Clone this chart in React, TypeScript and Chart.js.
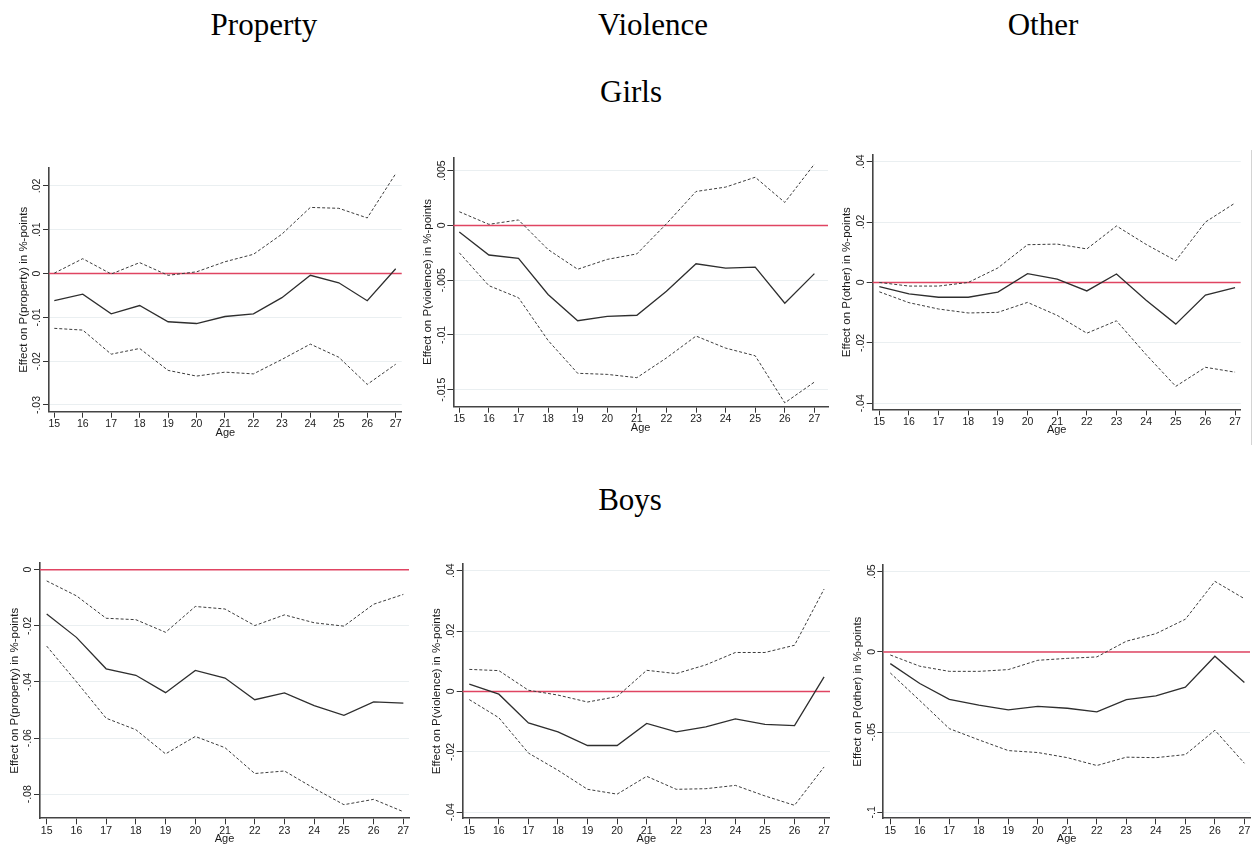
import React, { useEffect, useRef } from "react";
import { Chart, registerables } from "chart.js";

Chart.register(...registerables);

const ages = [15, 16, 17, 18, 19, 20, 21, 22, 23, 24, 25, 26, 27];

// girls
const girlsPropertyEst = [-0.0062, -0.0047, -0.0092, -0.0073, -0.011, -0.0114, -0.0098, -0.0092, -0.0055, -0.0004, -0.0021, -0.0062, 0.0011];
const girlsPropertyHi = [0.0001, 0.0034, -0.0001, 0.0025, -0.0004, 0.0004, 0.0027, 0.0044, 0.009, 0.0151, 0.0149, 0.0127, 0.0228];
const girlsPropertyLo = [-0.0125, -0.0129, -0.0184, -0.0171, -0.0221, -0.0234, -0.0225, -0.0229, -0.0196, -0.0161, -0.0191, -0.0253, -0.0207];
const girlsPropertyTicks = [0.02, 0.01, 0, -0.01, -0.02, -0.03];

const girlsViolenceEst = [-0.0006, -0.0027, -0.003, -0.0063, -0.0087, -0.0083, -0.0082, -0.006, -0.0035, -0.0039, -0.0038, -0.0071, -0.0044];
const girlsViolenceHi = [0.00125, 0.0001, 0.0005, -0.0022, -0.004, -0.0031, -0.0026, 0.00015, 0.0031, 0.0035, 0.0044, 0.0021, 0.0056];
const girlsViolenceLo = [-0.0025, -0.0055, -0.0066, -0.0105, -0.0135, -0.0136, -0.0139, -0.0121, -0.0101, -0.0112, -0.0119, -0.0162, -0.0143];
const girlsViolenceTicks = [0.005, 0, -0.005, -0.01, -0.015];

const girlsOtherEst = [-0.0014, -0.0038, -0.0049, -0.0049, -0.0032, 0.0029, 0.0011, -0.0028, 0.0028, -0.0059, -0.0138, -0.0042, -0.0017];
const girlsOtherHi = [0.0, -0.0012, -0.0012, 0.0, 0.0048, 0.0125, 0.0127, 0.0111, 0.0187, 0.0126, 0.0072, 0.02, 0.0263];
const girlsOtherLo = [-0.0031, -0.0067, -0.0088, -0.0101, -0.0099, -0.0066, -0.0109, -0.0168, -0.0127, -0.0239, -0.0344, -0.0281, -0.0297];
const girlsOtherTicks = [0.04, 0.02, 0, -0.02, -0.04];

// boys
const boysPropertyEst = [-0.0158, -0.0241, -0.0353, -0.0376, -0.0438, -0.0359, -0.0386, -0.0463, -0.0439, -0.0484, -0.0519, -0.0471, -0.0475];
const boysPropertyHi = [-0.004, -0.0093, -0.0173, -0.0178, -0.0223, -0.0131, -0.014, -0.0199, -0.0161, -0.0189, -0.0201, -0.0123, -0.0088];
const boysPropertyLo = [-0.0272, -0.0399, -0.0529, -0.057, -0.0656, -0.0594, -0.0634, -0.0726, -0.0717, -0.0779, -0.0837, -0.0818, -0.0862];
const boysPropertyTicks = [0, -0.02, -0.04, -0.06, -0.08];

const boysViolenceEst = [0.0024, -0.0009, -0.0104, -0.0134, -0.0179, -0.0179, -0.0106, -0.0134, -0.0117, -0.0091, -0.0109, -0.0113, 0.0048];
const boysViolenceHi = [0.0073, 0.0069, 0.0004, -0.0012, -0.0035, -0.0017, 0.007, 0.0059, 0.0088, 0.0129, 0.0129, 0.0153, 0.0339];
const boysViolenceLo = [-0.0027, -0.0087, -0.0204, -0.0261, -0.0324, -0.034, -0.0281, -0.0324, -0.0322, -0.0311, -0.0346, -0.0377, -0.025];
const boysViolenceTicks = [0.04, 0.02, 0, -0.02, -0.04];

const boysOtherEst = [-0.0073, -0.0197, -0.0295, -0.0332, -0.0361, -0.0339, -0.0351, -0.0374, -0.0297, -0.0274, -0.022, -0.0027, -0.0191];
const boysOtherHi = [-0.0019, -0.0089, -0.0121, -0.0121, -0.011, -0.0052, -0.004, -0.0031, 0.0067, 0.0114, 0.0204, 0.044, 0.0332];
const boysOtherLo = [-0.0131, -0.0303, -0.0478, -0.0548, -0.0615, -0.0627, -0.0659, -0.0708, -0.0656, -0.0659, -0.064, -0.0488, -0.0694];
const boysOtherTicks = [0.05, 0, -0.05, -0.1];

const SANS = "'Liberation Sans', Arial, sans-serif";
const SERIF = "'Liberation Serif', 'Times New Roman', serif";

const fmt = (v: number) => (v === 0 ? "0" : String(v).replace("0.", "."));

type Box = { left: number; top: number; width: number; height: number };
type Area = { left: number; top: number; right: number; bottom: number };

type PanelProps = {
  box: Box;
  area: Area;
  xRange: [number, number];
  yRange: [number, number];
  yTicks: number[];
  est: number[];
  hi: number[];
  lo: number[];
  yTitle: string;
};

const Panel: React.FC<PanelProps> = ({ box, area, xRange, yRange, yTicks, est, hi, lo, yTitle }) => {
  const canvasRef = useRef<HTMLCanvasElement>(null);

  useEffect(() => {
    if (!canvasRef.current) return;
    const ctx = canvasRef.current.getContext("2d");
    if (!ctx) return;

    const pts = (arr: number[]) => ages.map((a, i) => ({ x: a, y: arr[i] }));

    // zero line, tick labels and axis titles in the Stata look
    const stataBits = {
      id: "stataBits",
      beforeDatasetsDraw(chart: any) {
        const c = chart.ctx;
        const a = chart.chartArea;
        const y0 = chart.scales.y.getPixelForValue(0);
        c.save();
        c.strokeStyle = "#e04462";
        c.lineWidth = 1.5;
        c.beginPath();
        c.moveTo(a.left, y0);
        c.lineTo(a.right, y0);
        c.stroke();
        c.restore();
      },
      afterDraw(chart: any) {
        const c = chart.ctx;
        const a = chart.chartArea;
        const { x, y } = chart.scales;
        c.save();
        c.fillStyle = "#1a1a1a";
        c.textAlign = "center";
        c.textBaseline = "middle";
        c.font = `10.5px ${SANS}`;
        x.ticks.forEach((t: any) => {
          c.fillText(String(t.value), x.getPixelForValue(t.value), a.bottom + 12.5);
        });
        y.ticks.forEach((t: any) => {
          c.save();
          c.translate(a.left - 11.5, y.getPixelForValue(t.value));
          c.rotate(-Math.PI / 2);
          c.fillText(fmt(t.value), 0, 0);
          c.restore();
        });
        c.font = `11px ${SANS}`;
        c.fillText("Age", (a.left + a.right) / 2, a.bottom + 21);
        c.translate(a.left - 25.5, (a.top + a.bottom) / 2);
        c.rotate(-Math.PI / 2);
        c.font = `11.5px ${SANS}`;
        c.fillText(yTitle, 0, 0);
        c.restore();
      },
    };

    const chart = new Chart(ctx, {
      type: "line",
      data: {
        datasets: [
          { data: pts(est), borderColor: "#2e2e2e", borderWidth: 1.3 },
          { data: pts(hi), borderColor: "#3c3c3c", borderWidth: 1, borderDash: [3, 2] },
          { data: pts(lo), borderColor: "#3c3c3c", borderWidth: 1, borderDash: [3, 2] },
        ],
      },
      options: {
        animation: false,
        responsive: false,
        events: [],
        layout: {
          padding: {
            top: area.top - box.top,
            right: box.left + box.width - area.right,
            left: 0,
            bottom: 0,
          },
        },
        elements: { point: { radius: 0 }, line: { tension: 0 } },
        plugins: { legend: { display: false }, tooltip: { enabled: false } },
        scales: {
          x: {
            type: "linear",
            min: xRange[0],
            max: xRange[1],
            afterBuildTicks: (axis: any) => {
              axis.ticks = ages.map((v) => ({ value: v }));
            },
            afterFit: (axis: any) => {
              axis.height = box.top + box.height - area.bottom;
            },
            ticks: { display: false },
            grid: { display: true, drawOnChartArea: false, drawTicks: true, tickLength: 6, tickColor: "#333", tickWidth: 1 },
            border: { display: true, color: "#444", width: 1.6 },
          },
          y: {
            type: "linear",
            min: yRange[0],
            max: yRange[1],
            afterBuildTicks: (axis: any) => {
              axis.ticks = yTicks.map((v) => ({ value: v }));
            },
            afterFit: (axis: any) => {
              axis.width = area.left - box.left;
            },
            ticks: { display: false },
            grid: { color: "#eaeff1", lineWidth: 1, drawTicks: true, tickLength: 6, tickColor: "#333", tickWidth: 1 },
            border: { display: true, color: "#444", width: 1.6 },
          },
        },
      },
      plugins: [stataBits],
    } as any);

    return () => {
      chart.destroy();
    };
  }, []);

  return (
    <canvas
      ref={canvasRef}
      width={box.width}
      height={box.height}
      style={{ position: "absolute", left: box.left, top: box.top, width: box.width, height: box.height }}
    ></canvas>
  );
};

const headerStyle = (cx: number, baseline: number): React.CSSProperties => ({
  position: "absolute",
  left: cx - 100,
  width: 200,
  top: baseline - 26,
  textAlign: "center",
  fontFamily: SERIF,
  fontSize: 31,
  lineHeight: "31px",
  color: "#000",
  whiteSpace: "nowrap",
});

const App: React.FC = () => {
  return (
    <div style={{ position: "absolute", left: 0, top: 0, width: 1256, height: 854, background: "#fff", overflow: "hidden" }}>
      <div style={headerStyle(264, 35)}>Property</div>
      <div style={headerStyle(653, 35)}>Violence</div>
      <div style={headerStyle(1043, 35)}>Other</div>
      <div style={headerStyle(631, 102)}>Girls</div>
      <div style={headerStyle(630, 510)}>Boys</div>

      <Panel
        box={{ left: 0, top: 150, width: 410, height: 290 }}
        area={{ left: 49, top: 168, right: 401.7, bottom: 411.7 }}
        xRange={[14.814, 27.211]}
        yRange={[-0.03153, 0.0241]}
        yTicks={girlsPropertyTicks}
        est={girlsPropertyEst}
        hi={girlsPropertyHi}
        lo={girlsPropertyLo}
        yTitle="Effect on P(property) in %-points"
      />
      <Panel
        box={{ left: 410, top: 145, width: 420, height: 295 }}
        area={{ left: 453.3, top: 157.3, right: 828, bottom: 406.7 }}
        xRange={[14.797, 27.46]}
        yRange={[-0.01655, 0.00622]}
        yTicks={girlsViolenceTicks}
        est={girlsViolenceEst}
        hi={girlsViolenceHi}
        lo={girlsViolenceLo}
        yTitle="Effect on P(violence) in %-points"
      />
      <Panel
        box={{ left: 830, top: 145, width: 426, height: 300 }}
        area={{ left: 872.7, top: 155, right: 1240.7, bottom: 409.3 }}
        xRange={[14.777, 27.19]}
        yRange={[-0.042, 0.0422]}
        yTicks={girlsOtherTicks}
        est={girlsOtherEst}
        hi={girlsOtherHi}
        lo={girlsOtherLo}
        yTitle="Effect on P(other) in %-points"
      />
      <div style={{ position: "absolute", left: 1251, top: 150, width: 0, height: 295, borderLeft: "1px solid #d4d4d4" }} />

      <Panel
        box={{ left: 0, top: 555, width: 410, height: 299 }}
        area={{ left: 40, top: 563.3, right: 409, bottom: 818.3 }}
        xRange={[14.775, 27.19]}
        yRange={[-0.08855, 0.00228]}
        yTicks={boysPropertyTicks}
        est={boysPropertyEst}
        hi={boysPropertyHi}
        lo={boysPropertyLo}
        yTitle="Effect on P(property) in %-points"
      />
      <Panel
        box={{ left: 410, top: 555, width: 420, height: 299 }}
        area={{ left: 462.7, top: 564.3, right: 830, bottom: 818.3 }}
        xRange={[14.777, 27.2]}
        yRange={[-0.042, 0.0421]}
        yTicks={boysViolenceTicks}
        est={boysViolenceEst}
        hi={boysViolenceHi}
        lo={boysViolenceLo}
        yTitle="Effect on P(violence) in %-points"
      />
      <Panel
        box={{ left: 830, top: 555, width: 426, height: 299 }}
        area={{ left: 883.3, top: 565, right: 1250, bottom: 818.3 }}
        xRange={[14.763, 27.19]}
        yRange={[-0.1037, 0.0542]}
        yTicks={boysOtherTicks}
        est={boysOtherEst}
        hi={boysOtherHi}
        lo={boysOtherLo}
        yTitle="Effect on P(other) in %-points"
      />
    </div>
  );
};

export default App;
